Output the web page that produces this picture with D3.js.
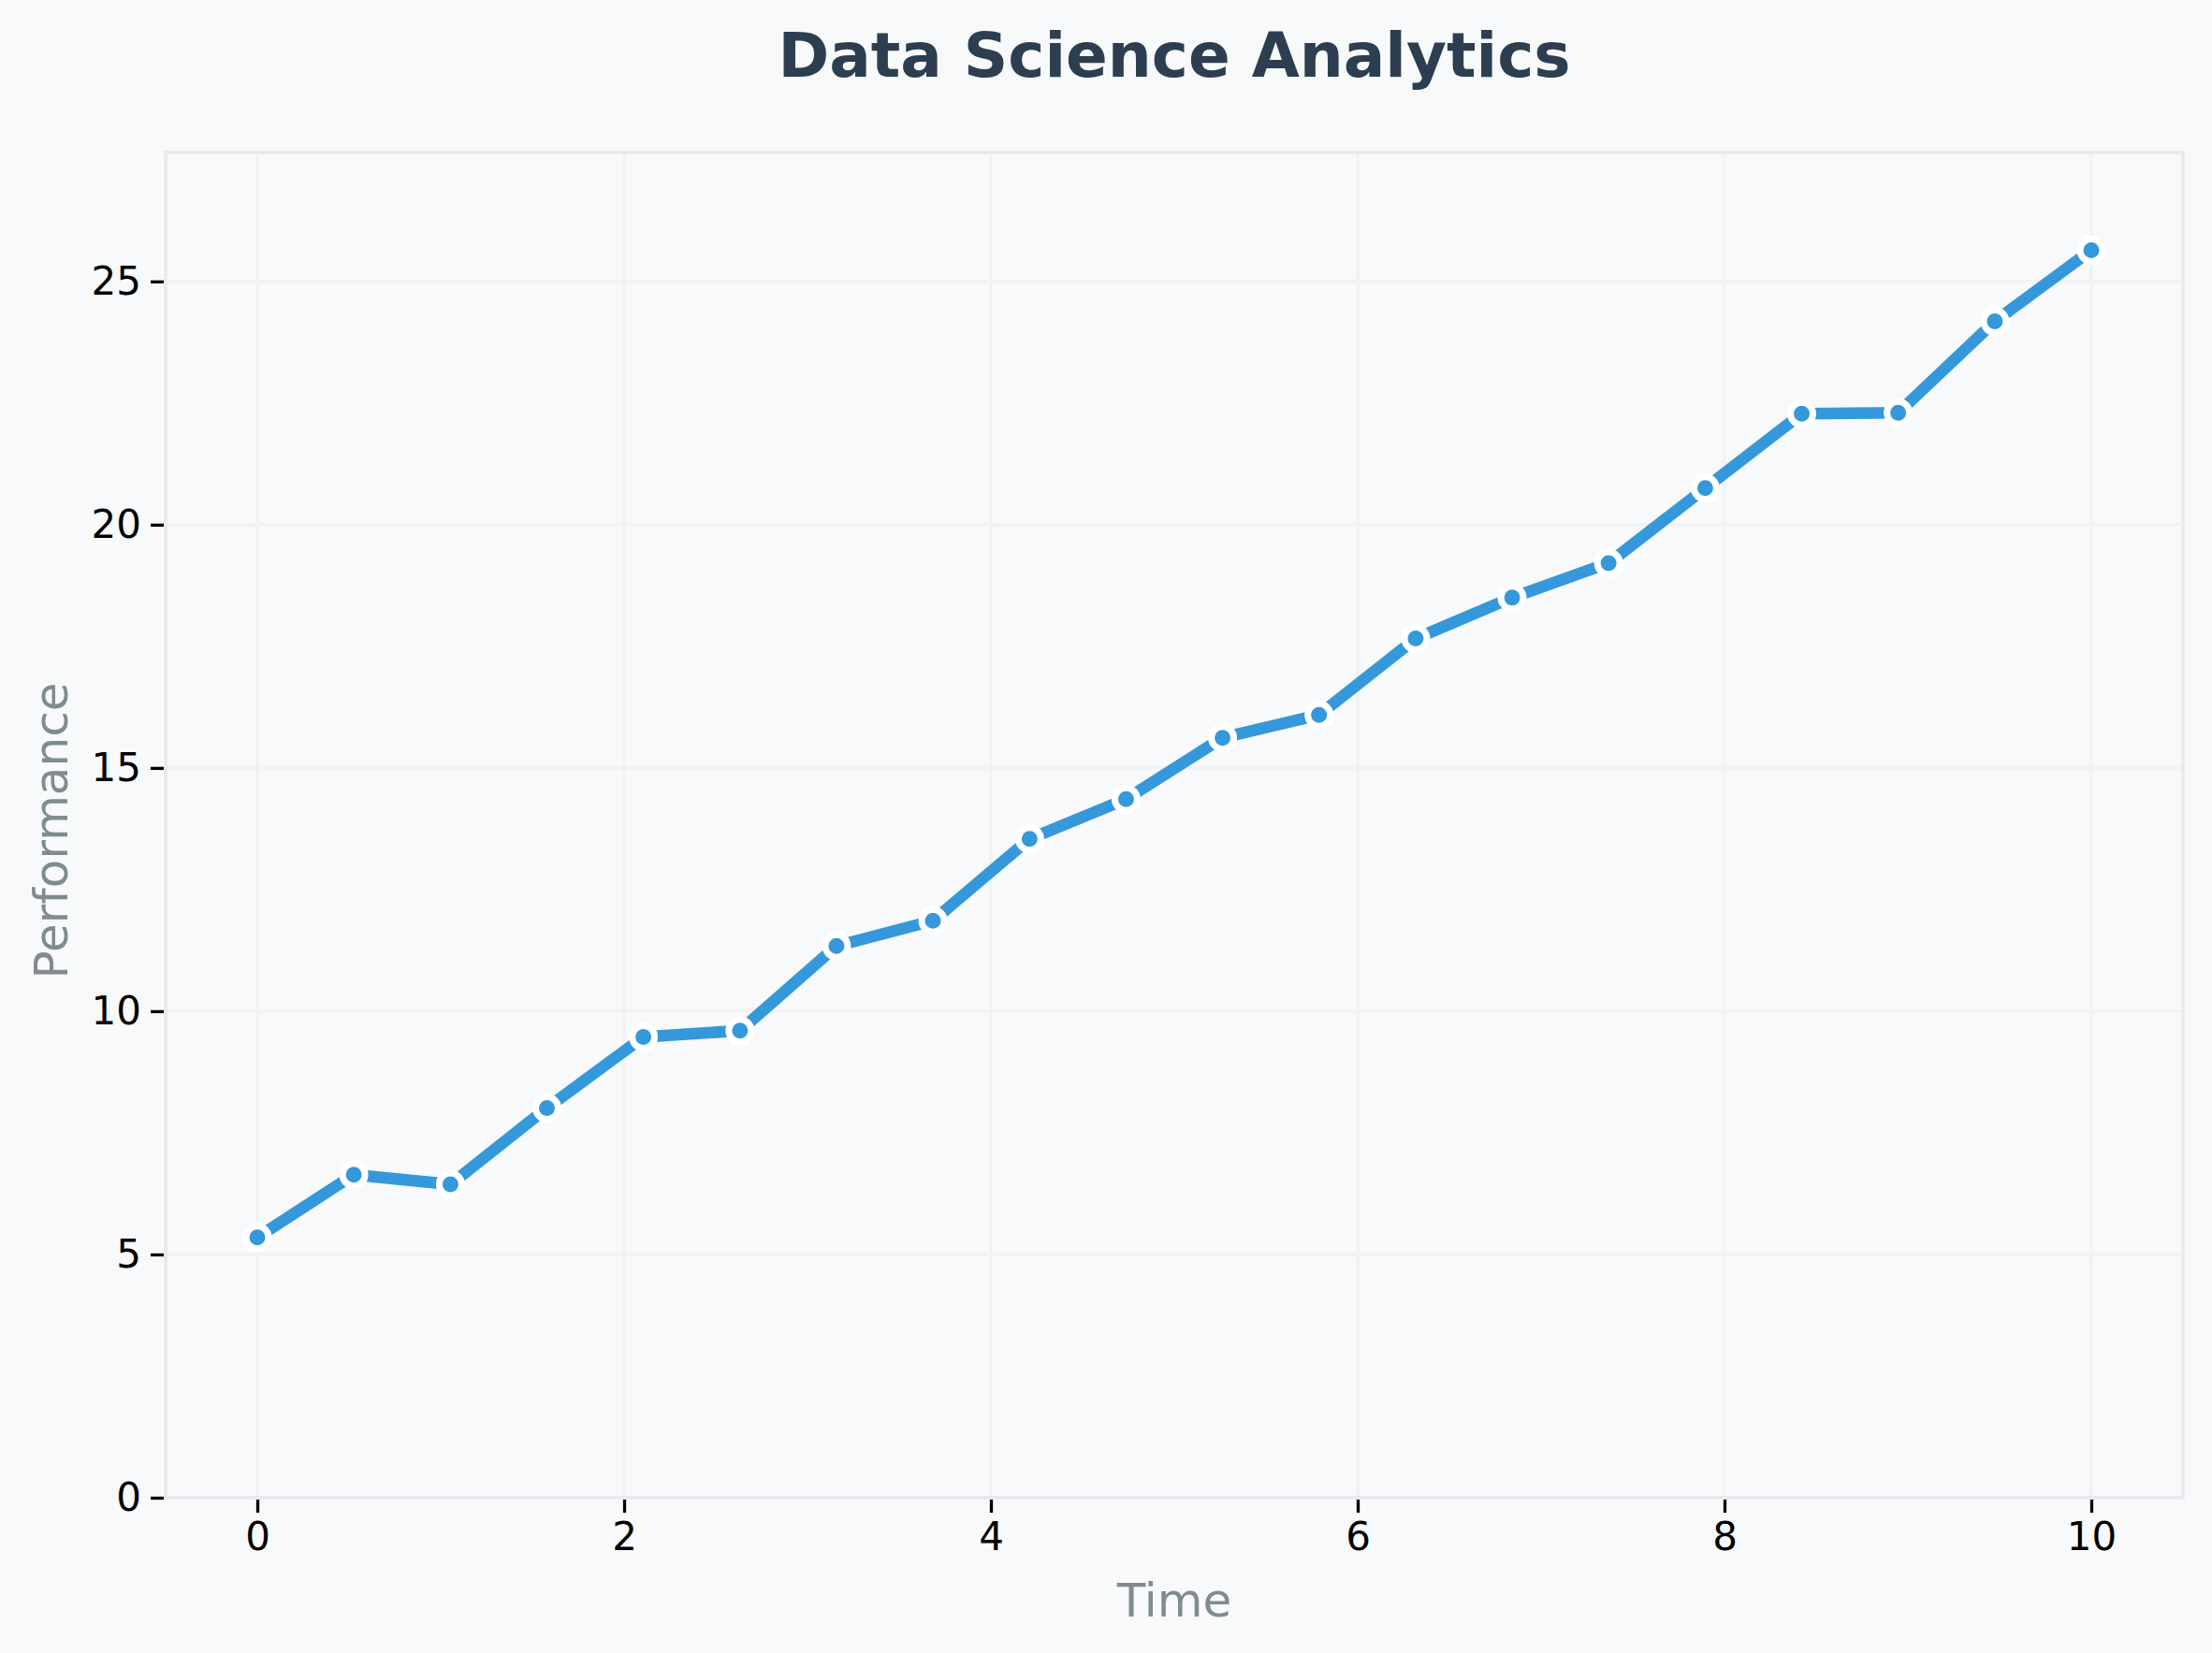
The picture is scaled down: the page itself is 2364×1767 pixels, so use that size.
<!DOCTYPE html>
<html>
<head>
<meta charset="utf-8">
<script src="https://cdn.jsdelivr.net/npm/d3@7"></script>
<style>
  html, body { margin: 0; padding: 0; background: #f8f9fa; }
  svg { display: block; }
  text { font-family: "DejaVu Sans", sans-serif; }
</style>
</head>
<body>
<script>
// ---- Data ----
const timeValues = [0, 0.526, 1.053, 1.579, 2.105, 2.632, 3.158, 3.684, 4.211, 4.737,
                    5.263, 5.789, 6.316, 6.842, 7.368, 7.895, 8.421, 8.947, 9.474, 10];
const performance = [5.35, 6.64, 6.44, 8.01, 9.47, 9.60, 11.34, 11.86, 13.54, 14.36,
                     15.62, 16.09, 17.66, 18.50, 19.21, 20.75, 22.28, 22.30, 24.18, 25.64];
const xTicks = [0, 2, 4, 6, 8, 10];
const yTicks = [0, 5, 10, 15, 20, 25];
const titleText = "Data Science Analytics";
const xLabel = "Time";
const yLabel = "Performance";

// ---- Layout ----
const W = 2364, H = 1767;
const plot = { left: 177, top: 163, right: 2333, bottom: 1601 };

const svg = d3.select("body").append("svg")
  .attr("width", W).attr("height", H);

svg.append("rect").attr("width", W).attr("height", H).attr("fill", "#f8f9fa");

const x = d3.scaleLinear().domain([-0.5, 10.5]).range([plot.left, plot.right]);
const y = d3.scaleLinear().domain([0, 27.65]).range([plot.bottom, plot.top]);

// Grid
const grid = svg.append("g");
grid.selectAll("line.gx").data(xTicks).join("line")
  .attr("x1", d => x(d)).attr("x2", d => x(d))
  .attr("y1", plot.top).attr("y2", plot.bottom)
  .attr("stroke", "#f1f2f4").attr("stroke-width", 3.5);
grid.selectAll("line.gy").data(yTicks).join("line")
  .attr("y1", d => y(d)).attr("y2", d => y(d))
  .attr("x1", plot.left).attr("x2", plot.right)
  .attr("stroke", "#f1f2f4").attr("stroke-width", 3.5);

// Spines
svg.append("rect")
  .attr("x", plot.left).attr("y", plot.top)
  .attr("width", plot.right - plot.left).attr("height", plot.bottom - plot.top)
  .attr("fill", "none").attr("stroke", "#e7e9ec").attr("stroke-width", 3.5);

// Axes
const xAxis = svg.append("g")
  .attr("transform", `translate(0,${plot.bottom + 2})`)
  .call(d3.axisBottom(x).tickValues(xTicks).tickFormat(d3.format("d")).tickSize(14).tickPadding(10));
const yAxis = svg.append("g")
  .attr("transform", `translate(${plot.left - 2},0)`)
  .call(d3.axisLeft(y).tickValues(yTicks).tickFormat(d3.format("d")).tickSize(14).tickPadding(10));

[xAxis, yAxis].forEach(a => {
  a.select(".domain").remove();
  a.selectAll(".tick line").attr("stroke", "#000").attr("stroke-width", 3.3);
  a.selectAll(".tick text").attr("fill", "#000")
    .style("font-family", "'DejaVu Sans', sans-serif").style("font-size", "42px");
});

// Line
const line = d3.line().x((d, i) => x(timeValues[i])).y(d => y(d));
svg.append("path").datum(performance)
  .attr("d", line)
  .attr("fill", "none")
  .attr("stroke", "#3498db")
  .attr("stroke-width", 12.5)
  .attr("stroke-linejoin", "round")
  .attr("stroke-linecap", "butt");

// Markers
svg.selectAll("circle.pt").data(performance).join("circle")
  .attr("class", "pt")
  .attr("cx", (d, i) => x(timeValues[i]))
  .attr("cy", d => y(d))
  .attr("r", 12)
  .attr("fill", "#3498db")
  .attr("stroke", "#ffffff")
  .attr("stroke-width", 7);

// Title
svg.append("text")
  .attr("x", (plot.left + plot.right) / 2).attr("y", 82)
  .attr("text-anchor", "middle")
  .attr("fill", "#2c3e50")
  .style("font-size", "66px").style("font-weight", "bold")
  .text(titleText);

// Axis labels
svg.append("text")
  .attr("x", (plot.left + plot.right) / 2).attr("y", 1728)
  .attr("text-anchor", "middle")
  .attr("fill", "#7f8c8d")
  .style("font-size", "50px")
  .text(xLabel);

svg.append("text")
  .attr("transform", `translate(72,${(plot.top + plot.bottom) / 2 + 6}) rotate(-90)`)
  .attr("text-anchor", "middle")
  .attr("fill", "#7f8c8d")
  .style("font-size", "50px")
  .text(yLabel);
</script>
</body>
</html>
